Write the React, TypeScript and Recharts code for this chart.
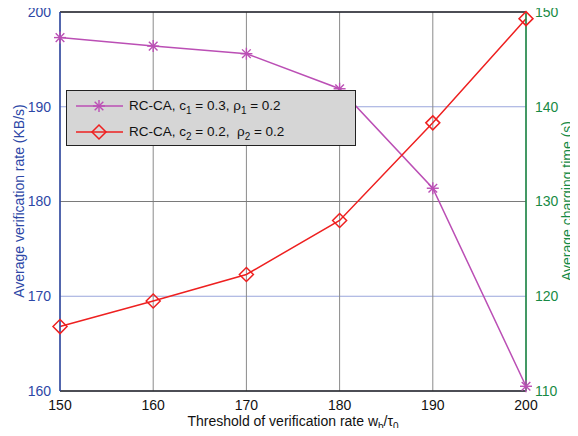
import React from 'react';
import {
  LineChart,
  Line,
  XAxis,
  YAxis,
  CartesianGrid,
  ReferenceLine,
} from 'recharts';

const thresholds = [150, 160, 170, 180, 190, 200];
const verificationRate = [197.3, 196.4, 195.6, 191.9, 181.4, 160.5];
const chargingTime = [116.8, 119.5, 122.3, 128.0, 138.3, 149.3];
const leftTicks = [160, 170, 180, 190, 200];
const rightTicks = [110, 120, 130, 140, 150];

const data = thresholds.map((t, i) => ({
  t,
  rate: verificationRate[i],
  time: chargingTime[i],
}));

const MAGENTA = '#bb4fb5';
const RED = '#ee2020';
const BLUE = '#2d47a6';
const GREEN = '#188a45';
const FONT = '"Liberation Sans", Arial, sans-serif';

// recharts passes its own r to dots, so marker size is fixed here
const STAR_R = 6;
const DIAMOND_R = 7;

const Star = ({ cx, cy }: any) => {
  if (cx == null || cy == null) return null;
  const r = STAR_R;
  const d = r * 0.72;
  return (
    <g stroke={MAGENTA} strokeWidth={1.4}>
      <line x1={cx - r} y1={cy} x2={cx + r} y2={cy} />
      <line x1={cx} y1={cy - r} x2={cx} y2={cy + r} />
      <line x1={cx - d} y1={cy - d} x2={cx + d} y2={cy + d} />
      <line x1={cx - d} y1={cy + d} x2={cx + d} y2={cy - d} />
    </g>
  );
};

const Diamond = ({ cx, cy }: any) => {
  if (cx == null || cy == null) return null;
  const r = DIAMOND_R;
  return (
    <path
      d={`M${cx},${cy - r} L${cx + r},${cy} L${cx},${cy + r} L${cx - r},${cy} Z`}
      fill="none"
      stroke={RED}
      strokeWidth={1.5}
    />
  );
};

const sub = { fontSize: 10, verticalAlign: 'sub', lineHeight: 0 } as const;

const LegendBox = () => (
  <div
    style={{
      position: 'absolute',
      left: 66,
      top: 90,
      width: 288,
      height: 54,
      background: '#d6d6d6',
      border: '1px solid #222',
      fontFamily: FONT,
      fontSize: 13.5,
      color: '#111',
    }}
  >
    <div style={{ display: 'flex', alignItems: 'center', height: 27, marginTop: 1 }}>
      <svg width={62} height={20}>
        <line x1={9} y1={10} x2={56} y2={10} stroke={MAGENTA} strokeWidth={1.5} />
        <Star cx={32} cy={10} />
      </svg>
      <span>
        RC-CA, c<span style={sub}>1</span> = 0.3, ρ<span style={sub}>1</span> = 0.2
      </span>
    </div>
    <div style={{ display: 'flex', alignItems: 'center', height: 25 }}>
      <svg width={62} height={20}>
        <line x1={9} y1={10} x2={56} y2={10} stroke={RED} strokeWidth={1.5} />
        <Diamond cx={32} cy={10} />
      </svg>
      <span>
        RC-CA, c<span style={sub}>2</span> = 0.2,&nbsp; ρ<span style={sub}>2</span> = 0.2
      </span>
    </div>
  </div>
);

const labelBase = {
  position: 'absolute',
  fontFamily: FONT,
  fontSize: 14,
  whiteSpace: 'nowrap',
} as const;

export default function App() {
  return (
    <div style={{ margin: -8, width: 578, height: 436, background: '#fff', position: 'relative' }}>
      <LineChart
        width={578}
        height={436}
        data={data}
        margin={{ top: 12, right: 0, left: 0, bottom: 0 }}
        style={{ fontFamily: FONT }}
      >
        <CartesianGrid yAxisId="left" vertical={false} stroke="#9aa6dc" strokeWidth={1} />
        <CartesianGrid yAxisId="left" horizontal={false} stroke="#8a8a8a" strokeWidth={1} />
        <ReferenceLine yAxisId="left" y={180} stroke="#7a7a7a" />
        <ReferenceLine yAxisId="left" y={200} stroke="#222" strokeWidth={1.5} />
        <XAxis
          dataKey="t"
          type="number"
          domain={[150, 200]}
          ticks={thresholds}
          height={45}
          tickLine={false}
          axisLine={{ stroke: '#222', strokeWidth: 1.5 }}
          tick={{ fill: '#111', fontSize: 14 }}
          tickMargin={3}
        />
        <YAxis
          yAxisId="left"
          domain={[160, 200]}
          ticks={leftTicks}
          width={60}
          tickLine={false}
          axisLine={{ stroke: BLUE, strokeWidth: 1.5 }}
          tick={{ fill: BLUE, fontSize: 14 }}
          tickMargin={3}
        />
        <YAxis
          yAxisId="right"
          orientation="right"
          domain={[110, 150]}
          ticks={rightTicks}
          width={52}
          tickLine={false}
          axisLine={{ stroke: GREEN, strokeWidth: 1.5 }}
          tick={{ fill: GREEN, fontSize: 14 }}
          tickMargin={3}
        />
        <Line
          yAxisId="left"
          type="linear"
          dataKey="rate"
          stroke={MAGENTA}
          strokeWidth={1.5}
          dot={<Star />}
          activeDot={false}
          isAnimationActive={false}
        />
        <Line
          yAxisId="right"
          type="linear"
          dataKey="time"
          stroke={RED}
          strokeWidth={1.5}
          dot={<Diamond />}
          activeDot={false}
          isAnimationActive={false}
        />
      </LineChart>
      <LegendBox />
      <div
        style={{
          ...labelBase,
          color: BLUE,
          left: 19,
          top: 201,
          transform: 'translate(-50%, -50%) rotate(-90deg)',
        }}
      >
        Average verification rate (KB/s)
      </div>
      <div
        style={{
          ...labelBase,
          color: GREEN,
          left: 567,
          top: 201,
          transform: 'translate(-50%, -50%) rotate(-90deg)',
        }}
      >
        Average charging time (s)
      </div>
      <div
        style={{
          ...labelBase,
          color: '#111',
          left: 293,
          top: 421,
          transform: 'translate(-50%, -50%)',
        }}
      >
        Threshold of verification rate w<span style={sub}>b</span>/τ<span style={sub}>0</span>
      </div>
    </div>
  );
}
